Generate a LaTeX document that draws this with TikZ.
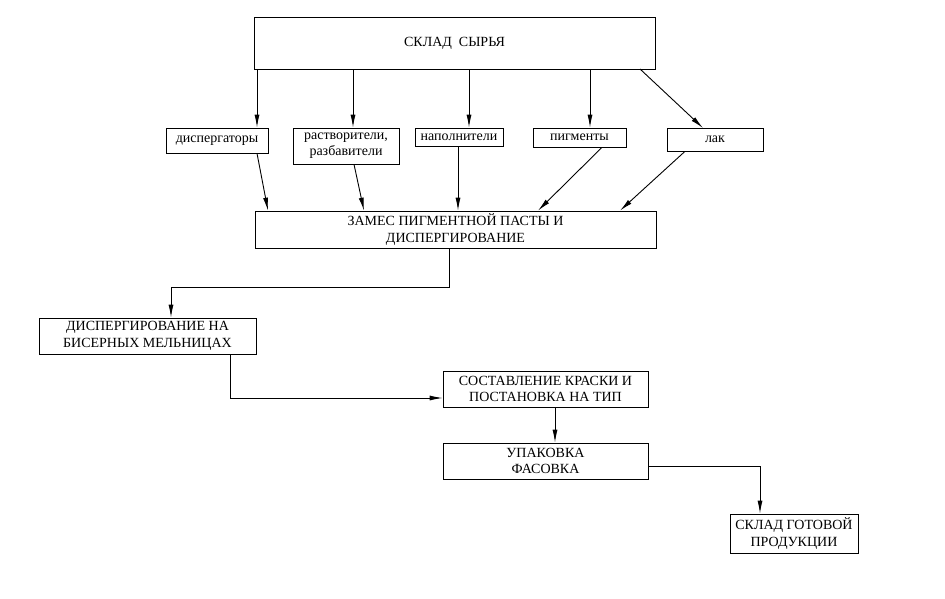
\documentclass[tikz,border=0pt]{standalone}
\usepackage{fontspec}
\setmainfont{Liberation Serif}
\usetikzlibrary{arrows.meta}
\begin{document}
\begin{tikzpicture}[x=1pt,y=-1pt,
  box/.style={draw,line width=0.7pt,inner sep=0pt,align=center,font=\fontsize{14}{16.5}\selectfont},
  sbox/.style={draw,line width=0.7pt,inner sep=0pt,align=center,font=\fontsize{14}{16}\selectfont},
  arr/.style={line width=0.9pt,-{Latex[length=13pt,width=5pt]}},
  ln/.style={line width=0.9pt}]
\useasboundingbox (0,0) rectangle (945,599);
\node[box,minimum width=401pt,minimum height=52pt] (top) at (454.5,43) {СКЛАД\ \ СЫРЬЯ};
\node[sbox,minimum width=102pt,minimum height=25pt] (disp) at (217,140.5) {диспергаторы};
\node[sbox,minimum width=106pt,minimum height=36pt] (rast) at (346,146) {растворители,\\разбавители};
\node[sbox,minimum width=88pt,minimum height=18pt] (napol) at (459,137) {наполнители};
\node[sbox,minimum width=93pt,minimum height=19pt] (pigm) at (579.5,137.5) {пигменты};
\node[sbox,minimum width=96pt,minimum height=23pt] (lak) at (715,139.5) {лак};
\node[box,minimum width=401pt,minimum height=37pt] (zames) at (455.5,229.5) {ЗАМЕС ПИГМЕНТНОЙ ПАСТЫ И\\ДИСПЕРГИРОВАНИЕ};
\node[box,minimum width=217pt,minimum height=36pt] (bis) at (147.5,336) {ДИСПЕРГИРОВАНИЕ НА\\БИСЕРНЫХ МЕЛЬНИЦАХ};
\node[box,minimum width=205pt,minimum height=36pt] (sost) at (545.5,389) {СОСТАВЛЕНИЕ КРАСКИ И\\ПОСТАНОВКА НА ТИП};
\node[box,minimum width=205pt,minimum height=36pt] (upak) at (545.5,461) {УПАКОВКА\\ФАСОВКА};
\node[box,minimum width=128pt,minimum height=39pt] (gotov) at (794,533.5) {СКЛАД ГОТОВОЙ\\ПРОДУКЦИИ};
% from top store
\draw[arr] (top.south -| 257,0) -- (disp.north -| 257,0);
\draw[arr] (top.south -| 353,0) -- (rast.north -| 353,0);
\draw[arr] (top.south -| 469,0) -- (napol.north -| 469,0);
\draw[arr] (top.south -| 590,0) -- (pigm.north -| 590,0);
\coordinate (tl) at (640,69);
\coordinate (lt) at (703,128);
\draw[arr] (tl) -- (lt);
% to zames
\draw[arr] (disp.south -| 257,0) -- (zames.north -| 268,0);
\draw[arr] (rast.south -| 354,0) -- (zames.north -| 364,0);
\draw[arr] (napol.south -| 458,0) -- (zames.north -| 458,0);
\draw[arr] (pigm.south -| 602,0) -- (zames.north -| 538,0);
\draw[arr] (lak.south -| 685,0) -- (zames.north -| 620,0);
% zames -> bis
\draw[arr] (zames.south -| 449,0) -- (449,287) -- (171,287) -- (bis.north -| 171,0);
% bis -> sost
\draw[arr] (bis.south -| 230,0) -- (230,398) -- (sost.west |- 0,398);
% sost -> upak
\draw[arr] (sost.south -| 555,0) -- (upak.north -| 555,0);
% upak -> gotov
\draw[arr] (upak.east |- 0,466) -- (760,466) -- (gotov.north -| 760,0);
\end{tikzpicture}
\end{document}
